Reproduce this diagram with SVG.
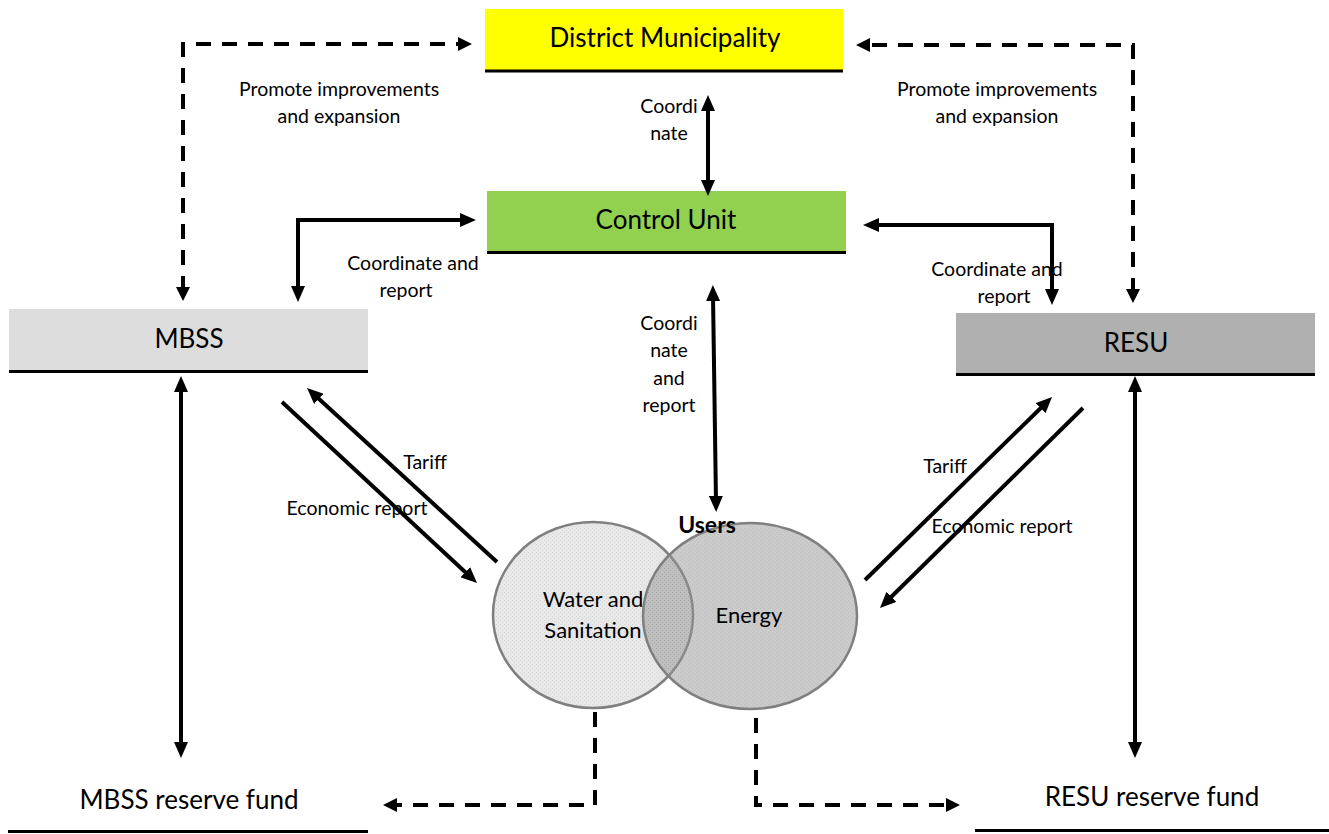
<svg xmlns="http://www.w3.org/2000/svg" width="1329" height="834" viewBox="0 0 1329 834">
  <style>
    text { font-family: Lato, "Open Sans", "Liberation Sans", sans-serif; fill: #000; text-anchor: middle; }
    .big { font-size: 26px; }
    .mid { font-size: 22px; }
    .sm { font-size: 19.5px; }
    .users { font-size: 23px; font-weight: bold; }
    .bar { stroke: #000; stroke-width: 3; }
    .solid { fill: none; stroke: #000; stroke-width: 4; marker-start: url(#ah); marker-end: url(#ah); }
    .dash { fill: none; stroke: #000; stroke-width: 4; stroke-dasharray: 15 11; }
    .circ { stroke: #7f7f7f; stroke-width: 2.5; }
  </style>
  <defs>
    <marker id="ah" viewBox="0 0 16 14" refX="6" refY="7" markerWidth="16" markerHeight="14" markerUnits="userSpaceOnUse" orient="auto-start-reverse">
      <path d="M0,0 L16,7 L0,14 z" fill="#000"/>
    </marker>
    <pattern id="dotsA" width="4" height="4" patternUnits="userSpaceOnUse">
      <rect width="4" height="4" fill="#e8e8e8"/>
      <rect width="1" height="1" fill="#d6d6d6"/>
      <rect x="2" y="2" width="1" height="1" fill="#d6d6d6"/>
    </pattern>
    <pattern id="dotsB" width="4" height="4" patternUnits="userSpaceOnUse">
      <rect width="4" height="4" fill="#979797"/>
      <rect width="1" height="1" fill="#7a7a7a"/>
      <rect x="2" y="2" width="1" height="1" fill="#7a7a7a"/>
    </pattern>
  </defs>

  <g id="district-municipality">
    <rect x="485" y="9" width="358" height="61" fill="#ffff00"/>
    <line class="bar" x1="485" y1="71" x2="843" y2="71"/>
    <text class="big" x="665" y="47">District Municipality</text>
  </g>

  <g id="control-unit">
    <rect x="487" y="191" width="359" height="61" fill="#92d050"/>
    <line class="bar" x1="487" y1="252.5" x2="846" y2="252.5"/>
    <text class="big" x="666" y="229">Control Unit</text>
  </g>

  <g id="mbss">
    <rect x="9" y="309" width="359" height="61" fill="#dddddd"/>
    <line class="bar" x1="9" y1="371.5" x2="368" y2="371.5"/>
    <text class="big" x="189" y="348">MBSS</text>
  </g>

  <g id="resu">
    <rect x="956" y="313" width="359" height="61" fill="#b0b0b0"/>
    <line class="bar" x1="956" y1="374.5" x2="1315" y2="374.5"/>
    <text class="big" x="1136" y="352">RESU</text>
  </g>

  <g id="mbss-reserve-fund">
    <text class="big" x="189" y="809">MBSS reserve fund</text>
    <line class="bar" x1="8" y1="831.5" x2="368" y2="831.5"/>
  </g>

  <g id="resu-reserve-fund">
    <text class="big" x="1152" y="806">RESU reserve fund</text>
    <line class="bar" x1="975" y1="830.5" x2="1329" y2="830.5"/>
  </g>

  <g id="users">
    <ellipse id="water-sanitation" class="circ" cx="593" cy="615" rx="100" ry="93" fill="url(#dotsA)"/>
    <ellipse id="energy" class="circ" cx="750" cy="616" rx="107" ry="93" fill="url(#dotsB)" fill-opacity="0.5"/>
    <text class="mid" x="593" y="607">Water and</text>
    <text class="mid" x="593" y="638">Sanitation</text>
    <text class="mid" x="749" y="623">Energy</text>
    <text class="users" x="707" y="533">Users</text>
  </g>

  <g id="connectors">
    <!-- dashed: DM <-> MBSS -->
    <path class="dash" d="M183,291 L183,44 L462,44"/>
    <path d="M183,301 l-7,-14 h14 z M472,44 l-14,-7 v14 z" fill="#000"/>
    <!-- dashed: DM <-> RESU -->
    <path class="dash" d="M1133,293 L1133,45 L866,45"/>
    <path d="M1133,303 l-7,-14 h14 z M856,45 l14,-7 v14 z" fill="#000"/>
    <!-- CU <-> MBSS -->
    <path class="solid" d="M466,220 L298,220 L298,292"/>
    <!-- CU <-> RESU -->
    <path class="solid" d="M873,225 L1052,225 L1052,295"/>
    <!-- DM <-> CU -->
    <path class="solid" d="M708,105 L708,186"/>
    <!-- CU <-> Users -->
    <path class="solid" d="M713,295 L716,502"/>
    <!-- MBSS <-> fund -->
    <path class="solid" d="M181,386 L181,748"/>
    <!-- RESU <-> fund -->
    <path class="solid" d="M1135,386 L1135,748"/>
    <!-- Tariff left -->
    <path class="solid" style="marker-start:none" d="M497,562 L314.4,394.8"/>
    <!-- Economic report left -->
    <path class="solid" style="marker-start:none" d="M282,402 L469.7,576.2"/>
    <!-- Tariff right -->
    <path class="solid" style="marker-start:none" d="M865,580 L1044.9,404"/>
    <!-- Economic report right -->
    <path class="solid" style="marker-start:none" d="M1083,408 L887.1,601"/>
    <!-- dashed: water -> MBSS fund -->
    <path class="dash" d="M595,712 L595,805 L393,805"/>
    <path d="M383,805 l14,-7 v14 z" fill="#000"/>
    <!-- dashed: energy -> RESU fund -->
    <path class="dash" d="M756,718 L756,805 L950,805"/>
    <path d="M960,805 l-14,-7 v14 z" fill="#000"/>
  </g>

  <g id="labels">
    <text class="sm" x="339" y="96">Promote improvements</text>
    <text class="sm" x="339" y="123">and expansion</text>
    <text class="sm" x="997" y="96">Promote improvements</text>
    <text class="sm" x="997" y="123">and expansion</text>
    <text class="sm" x="669" y="113">Coordi</text>
    <text class="sm" x="669" y="140">nate</text>
    <text class="sm" x="413" y="270">Coordinate and</text>
    <text class="sm" x="406" y="297">report</text>
    <text class="sm" x="997" y="276">Coordinate and</text>
    <text class="sm" x="1004" y="303">report</text>
    <text class="sm" x="669" y="330">Coordi</text>
    <text class="sm" x="669" y="357">nate</text>
    <text class="sm" x="669" y="385">and</text>
    <text class="sm" x="669" y="412">report</text>
    <text class="sm" x="425" y="469">Tariff</text>
    <text class="sm" x="357" y="515">Economic report</text>
    <text class="sm" x="945" y="473">Tariff</text>
    <text class="sm" x="1002" y="533">Economic report</text>
  </g>
</svg>
